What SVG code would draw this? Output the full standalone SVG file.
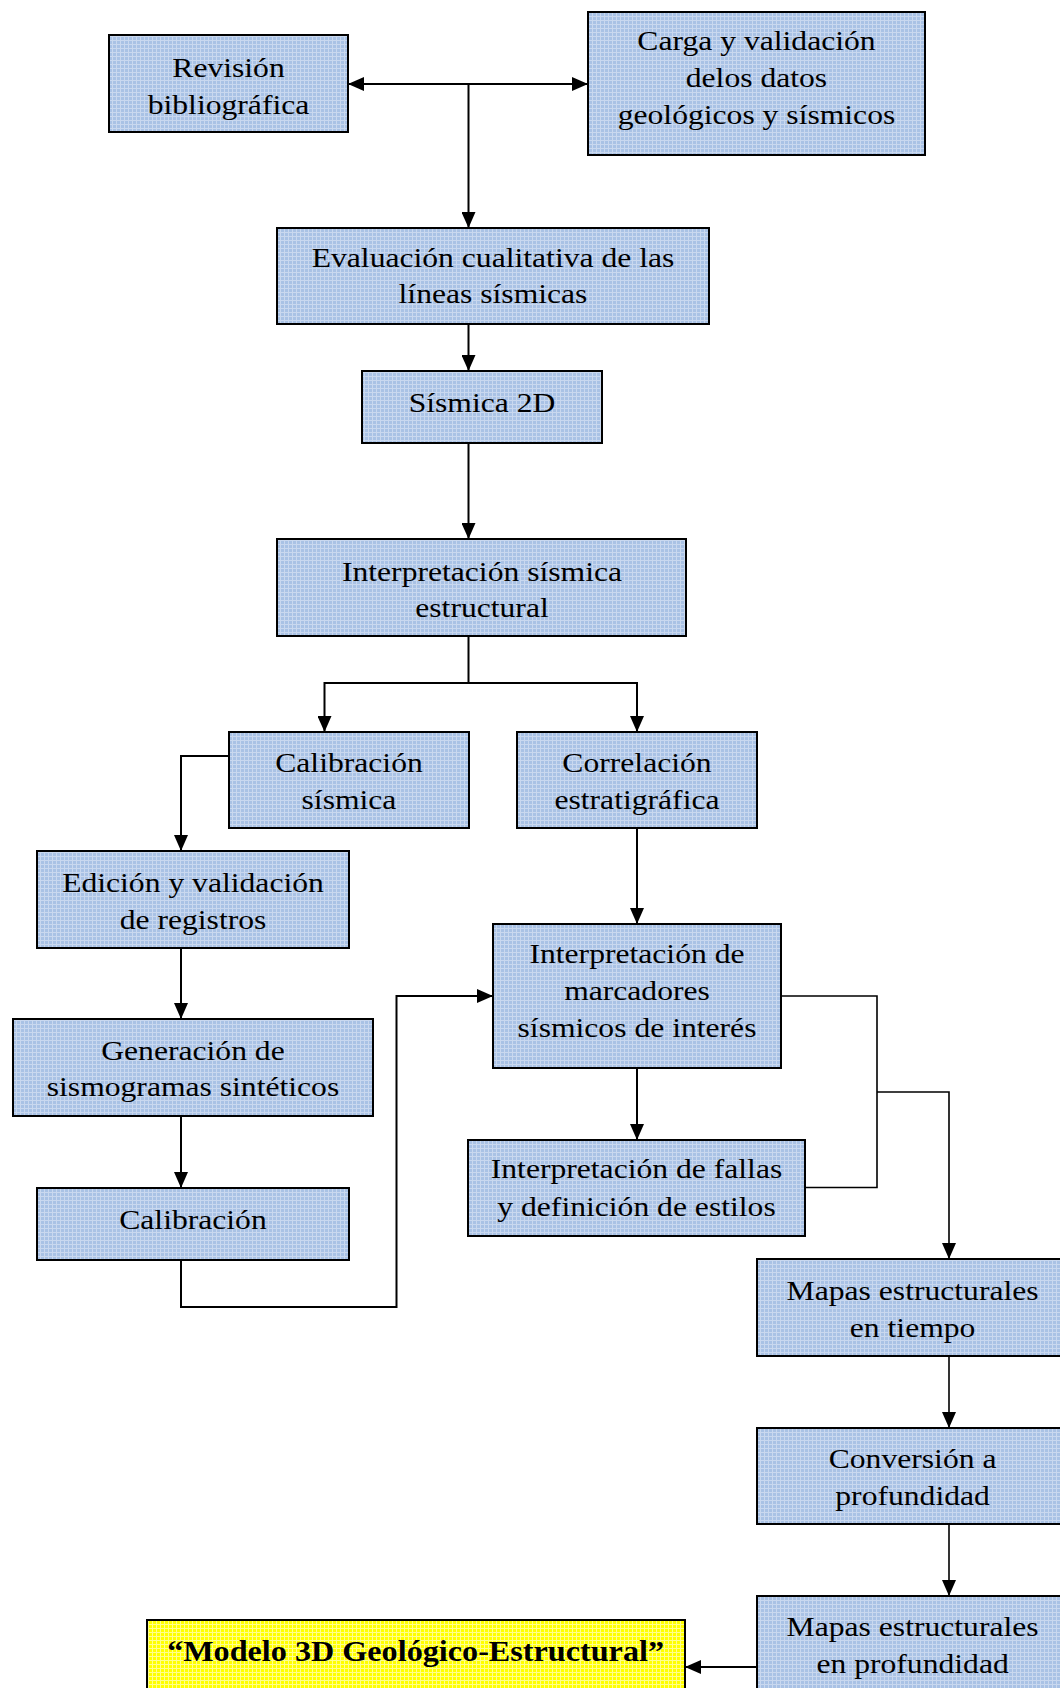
<svg xmlns="http://www.w3.org/2000/svg" width="1060" height="1688" viewBox="0 0 1060 1688">
<style>
.box{fill:url(#blue);stroke:#000;stroke-width:2}
.ybox{fill:url(#yel);stroke:#000;stroke-width:2}
text{font-family:"Liberation Serif","Times New Roman",serif;font-size:28px;fill:#000;text-anchor:middle}
.b{font-weight:bold;font-size:29px}
.c{fill:none;stroke:#000;stroke-width:2}
.t{stroke-width:1.6}
</style>
<defs>
<pattern id="blue" width="4" height="4" patternUnits="userSpaceOnUse">
<rect width="4" height="4" fill="#a9c2e5"/>
<rect width="4" height="1" fill="#c9d8ef"/>
<rect width="1" height="4" fill="#c9d8ef"/>
</pattern>
<pattern id="yel" width="4" height="4" patternUnits="userSpaceOnUse">
<rect width="4" height="4" fill="#ffff00"/>
<rect width="4" height="1" fill="#ffff8c"/>
<rect width="1" height="4" fill="#ffff8c"/>
</pattern>
<marker id="ah" markerUnits="userSpaceOnUse" markerWidth="16" markerHeight="14" refX="16" refY="7" orient="auto-start-reverse">
<path d="M0,0 L16,7 L0,14 z" fill="#000"/>
</marker>
</defs>
<rect width="1060" height="1688" fill="#fff"/>

<g id="connectors">
<path class="c" d="M348,84 H588" marker-start="url(#ah)" marker-end="url(#ah)"/>
<path class="c" d="M468.5,84 V228" marker-end="url(#ah)"/>
<path class="c" d="M468.5,324 V371" marker-end="url(#ah)"/>
<path class="c" d="M468.5,443 V539" marker-end="url(#ah)"/>
<path class="c" d="M468.5,636 V683"/>
<path class="c" d="M324.5,732 V683 H637 V732" marker-start="url(#ah)" marker-end="url(#ah)"/>
<path class="c" d="M229,756 H181 V851" marker-end="url(#ah)"/>
<path class="c" d="M181,948 V1019" marker-end="url(#ah)"/>
<path class="c" d="M181,1116 V1188" marker-end="url(#ah)"/>
<path class="c" d="M181,1260 V1307 H396.5 V996 H493" marker-end="url(#ah)"/>
<path class="c" d="M637,828 V924" marker-end="url(#ah)"/>
<path class="c" d="M637,1068 V1140" marker-end="url(#ah)"/>
<path class="c t" d="M781,996 H877 V1187.5 H805"/>
<path class="c t" d="M877,1092 H949 V1259" marker-end="url(#ah)"/>
<path class="c t" d="M949,1356 V1428" marker-end="url(#ah)"/>
<path class="c t" d="M949,1524 V1596" marker-end="url(#ah)"/>
<path class="c" d="M757,1667 H685" marker-end="url(#ah)"/>
</g>

<g id="n-revision">
<rect class="box" x="109" y="35" width="239" height="97"/>
<g transform="matrix(1.13 0 0 1 -29.7 0)"><text x="228.5" y="77">Revisión</text><text x="228.5" y="114">bibliográfica</text></g>
</g>
<g id="n-carga">
<rect class="box" x="588" y="12" width="337" height="143"/>
<g transform="matrix(1.13 0 0 1 -98.35 0)"><text x="756.5" y="50">Carga y validación</text><text x="756.5" y="87">delos datos</text><text x="756.5" y="124">geológicos y sísmicos</text></g>
</g>
<g id="n-evaluacion">
<rect class="box" x="277" y="228" width="432" height="96"/>
<g transform="matrix(1.13 0 0 1 -64.09 0)"><text x="493" y="267">Evaluación cualitativa de las</text><text x="493" y="303">líneas sísmicas</text></g>
</g>
<g id="n-sismica2d">
<rect class="box" x="362" y="371" width="240" height="72"/>
<g transform="matrix(1.13 0 0 1 -62.66 0)"><text x="482" y="412">Sísmica 2D</text></g>
</g>
<g id="n-interp-estructural">
<rect class="box" x="277" y="539" width="409" height="97"/>
<g transform="matrix(1.13 0 0 1 -62.66 0)"><text x="482" y="581">Interpretación sísmica</text><text x="482" y="617">estructural</text></g>
</g>
<g id="n-calibracion-sismica">
<rect class="box" x="229" y="732" width="240" height="96"/>
<g transform="matrix(1.13 0 0 1 -45.37 0)"><text x="349" y="772">Calibración</text><text x="349" y="809">sísmica</text></g>
</g>
<g id="n-correlacion">
<rect class="box" x="517" y="732" width="240" height="96"/>
<g transform="matrix(1.13 0 0 1 -82.81 0)"><text x="637" y="772">Correlación</text><text x="637" y="809">estratigráfica</text></g>
</g>
<g id="n-edicion">
<rect class="box" x="37" y="851" width="312" height="97"/>
<g transform="matrix(1.13 0 0 1 -25.09 0)"><text x="193" y="892">Edición y validación</text><text x="193" y="929">de registros</text></g>
</g>
<g id="n-generacion">
<rect class="box" x="13" y="1019" width="360" height="97"/>
<g transform="matrix(1.13 0 0 1 -25.09 0)"><text x="193" y="1060">Generación de</text><text x="193" y="1096">sismogramas sintéticos</text></g>
</g>
<g id="n-calibracion">
<rect class="box" x="37" y="1188" width="312" height="72"/>
<g transform="matrix(1.13 0 0 1 -25.09 0)"><text x="193" y="1229">Calibración</text></g>
</g>
<g id="n-marcadores">
<rect class="box" x="493" y="924" width="288" height="144"/>
<g transform="matrix(1.13 0 0 1 -82.81 0)"><text x="637" y="963">Interpretación de</text><text x="637" y="1000">marcadores</text><text x="637" y="1037">sísmicos de interés</text></g>
</g>
<g id="n-fallas">
<rect class="box" x="468" y="1140" width="337" height="96"/>
<g transform="matrix(1.13 0 0 1 -82.75 0)"><text x="636.5" y="1178">Interpretación de fallas</text><text x="636.5" y="1216">y definición de estilos</text></g>
</g>
<g id="n-mapas-tiempo">
<rect class="box" x="757" y="1259" width="312" height="97"/>
<g transform="matrix(1.13 0 0 1 -118.64 0)"><text x="912.6" y="1300">Mapas estructurales</text><text x="912.6" y="1337">en tiempo</text></g>
</g>
<g id="n-conversion">
<rect class="box" x="757" y="1428" width="312" height="96"/>
<g transform="matrix(1.13 0 0 1 -118.64 0)"><text x="912.6" y="1468">Conversión a</text><text x="912.6" y="1505">profundidad</text></g>
</g>
<g id="n-mapas-profundidad">
<rect class="box" x="757" y="1596" width="312" height="100"/>
<g transform="matrix(1.13 0 0 1 -118.64 0)"><text x="912.6" y="1636">Mapas estructurales</text><text x="912.6" y="1673">en profundidad</text></g>
</g>
<g id="n-modelo">
<rect class="ybox" x="147" y="1620" width="538" height="90"/>
<g transform="matrix(1.11 0 0 1 -45.72 0)"><text class="b" x="415.6" y="1661">“Modelo 3D Geológico-Estructural”</text></g>
</g>
</svg>
